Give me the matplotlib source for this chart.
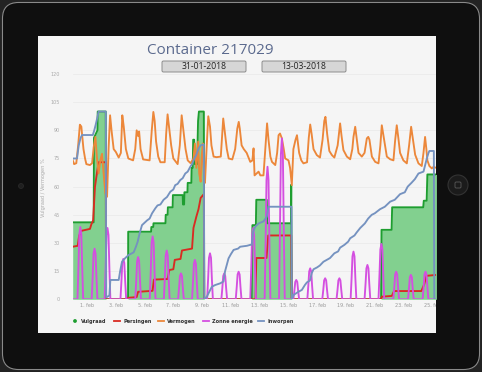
import matplotlib
matplotlib.use("Agg")
import matplotlib.pyplot as plt
from matplotlib.patches import FancyBboxPatch, Circle, Rectangle

# days since 31-01-2018 00:00
VULG_D = [0, 1.46, 1.48, 1.72, 1.74, 2.3, 2.32, 3.85, 3.86, 5.45, 5.47, 5.6, 5.62, 6.45, 6.47, 6.6, 6.62,
          6.95, 6.97, 7.65, 7.67, 7.75, 7.77, 7.98, 8.0, 8.25, 8.27, 8.35, 8.38, 8.45, 8.5, 8.65, 8.72,
          8.78, 9.12, 9.15, 12.45, 12.5, 12.74, 12.77, 13.5, 13.53, 15.18, 15.2, 15.24, 21.45, 21.48,
          22.18, 22.22, 24.38, 24.42, 24.62, 24.67, 25.3]
VULG_V = [41, 41, 86, 90, 100, 100, 0, 0, 36, 36, 38.5, 38.5, 40.5, 40.5, 45, 45, 49,
          49, 55.5, 55.5, 50.5, 50.5, 57, 57, 62, 62, 70, 70, 85, 85, 72, 72, 95,
          100, 100, 0, 0, 39.5, 39.5, 53, 53, 40.5, 40.5, 61, 0, 0, 37,
          37, 49, 49, 52.5, 52.5, 66.5, 66.5]

PERS_D = [0, 0.35, 0.45, 0.62, 1.2, 1.3, 1.42, 1.55, 1.7, 1.8, 2.3, 2.32, 3.85, 3.86, 4.45, 4.55, 5.55,
          5.65, 6.6, 6.72, 7.0, 7.1, 7.5, 7.6, 8.3, 8.4, 8.6, 8.75, 8.9, 9.12, 9.15, 12.72, 12.77,
          13.48, 13.6, 15.2, 15.23, 21.45, 21.5, 22.2, 22.35, 24.25, 24.45, 24.6, 25.3]
PERS_V = [28, 28.5, 34, 36.5, 37.5, 40, 42, 60, 68, 73, 73, 0, 0, 0.8, 1.2, 4, 4.5,
          10.5, 10.8, 15.6, 16, 21, 21.5, 26, 27, 38, 44, 48, 54, 56, 0, 0, 22,
          22, 34, 34, 0, 0, 1.4, 1.8, 4.4, 4.4, 8, 12.5, 13]

VERM_D = [0.0, 0.1, 0.25, 0.38, 0.5, 0.6, 0.75, 0.86, 0.95, 1.2, 1.35, 1.46, 1.58, 1.68, 1.8, 1.92,
          2.04, 2.15, 2.27, 2.39, 2.5, 2.6, 2.7, 2.85, 3.0, 3.2, 3.35, 3.45, 3.55, 3.7, 3.87, 4.2,
          4.35, 4.45, 4.55, 4.62, 4.72, 4.9, 5.35, 5.5, 5.61, 5.7, 5.8, 5.95, 6.1, 6.4, 6.5, 6.6,
          6.7, 6.85, 7.0, 7.3, 7.45, 7.58, 7.7, 7.85, 8.0, 8.2, 8.4, 8.5, 8.6, 8.73, 8.8, 8.9,
          8.97, 9.05, 9.13, 9.2, 9.31, 9.43, 9.55, 9.65, 9.8, 10.0, 10.3, 10.4, 10.47, 10.6, 10.72,
          10.85, 11.1, 11.3, 11.45, 11.55, 11.62, 11.75, 11.9, 12.1, 12.35, 12.5, 12.58, 12.65,
          12.93, 13.05, 13.27, 13.4, 13.52, 13.62, 13.75, 13.86, 14.09, 14.22, 14.32, 14.42,
          14.55, 14.68, 14.78, 15.01, 15.12, 15.24, 15.35, 15.5, 15.6, 15.75, 15.9, 16.05, 16.3,
          16.42, 16.52, 16.62, 16.75, 16.98, 17.2, 17.38, 17.5, 17.58, 17.7, 17.85, 18.03, 18.2,
          18.43, 18.6, 18.7, 18.83, 19.07, 19.3, 19.45, 19.53, 19.65, 19.75, 19.88, 20.11, 20.3,
          20.46, 20.56, 20.64, 20.81, 21.04, 21.27, 21.4, 21.5, 21.6, 21.73, 21.85, 22.08, 22.31,
          22.42, 22.54, 22.65, 22.77, 23.0, 23.24, 23.4, 23.54, 23.65, 23.82, 24.05, 24.28, 24.4,
          24.51, 24.6, 24.67, 24.81, 24.98, 25.09, 25.3]
VERM_V = [74, 72, 72.5, 82, 93, 92, 80, 75, 72, 71.5, 72.5, 81, 86.5, 76, 67, 74,
          77.5, 67, 56.5, 54.6, 81, 98, 90, 80, 78.5, 75.5, 78, 98, 92, 80, 75, 74,
          80, 90, 87, 89.4, 80, 74.5, 74, 90, 99.8, 95, 84, 76, 73, 73, 88, 98.5,
          92, 82, 75, 72, 82, 98, 90, 80, 74, 72.5, 75, 83, 70, 84, 67, 62.6,
          76, 83, 62.6, 62, 80, 97.5, 92, 82, 76, 75.7, 76, 88, 96.3, 88, 80,
          75, 74.5, 80, 91, 94.5, 91, 82, 80, 78, 73.2, 74, 80.4, 66,
          68, 66, 66, 80, 93.7, 85, 76, 73.2, 71.5, 78, 87.4, 88.3,
          85.7, 80, 75, 74, 70, 60.8, 80, 85, 87.4, 78, 74, 72.4, 73,
          86, 93.1, 88, 80, 76.8, 75.5, 85, 95, 97.2, 88, 79, 76.8, 75.5,
          82, 93.7, 87, 79.5, 76, 74.6, 80, 86.5, 91.9, 86, 78, 76, 78,
          85.7, 86.5, 85, 76, 73.2, 72.4, 82, 92.7, 88, 82, 76, 74.6, 74,
          84, 92.7, 86, 78, 74, 72.4, 82, 91.9, 86, 77, 72.4, 71, 78,
          86.5, 80, 74, 71, 69.7, 70.5, 70]

# solar peaks: one per day (centre day, peak value)
ZON_DAY = [0.53, 1.52, 2.42, 3.52, 4.55, 5.56, 6.54, 7.53, 8.5, 9.55, 10.54, 11.54, 12.55,
           13.55, 14.55, 15.55, 16.52, 17.56, 18.55, 19.53, 20.5, 21.47, 22.5, 23.52, 24.54]
ZON_PEAK = [38.5, 27, 38, 21.5, 22.5, 33.5, 26, 13.8, 21, 24.5, 13.8, 14.7, 38,
            70.6, 85.7, 10.3, 16.5, 11.2, 11.2, 25.4, 18.3, 29.5, 14.7, 13, 14.7]

INW_D = [0, 0.3, 0.42, 0.55, 0.65, 1.4, 1.5, 1.6, 1.72, 1.8, 2.3, 2.33, 2.55, 2.62, 3.2, 3.3, 3.43,
         3.66, 3.89, 4.24, 4.4, 4.52, 4.65, 4.82, 5.17, 5.35, 5.52, 5.75, 5.9, 6.1, 6.32, 6.56,
         6.79, 7.0, 7.13, 7.3, 7.48, 7.65, 7.83, 8.0, 8.18, 8.3, 8.41, 8.6, 8.76, 8.9, 9.12, 9.15,
         9.33, 9.5, 9.68, 9.91, 10.26, 10.49, 10.6, 10.84, 11.0, 11.19, 11.5, 11.65, 12.12, 12.35,
         12.45, 12.55, 12.7, 12.93, 13.27, 13.5, 13.62, 15.22, 15.24, 15.36, 15.7, 15.94, 16.15,
         16.29, 16.5, 16.63, 16.75, 17.0, 17.19, 17.44, 17.79, 17.9, 18.2, 18.46, 18.6, 18.9,
         19.16, 19.3, 19.6, 19.74, 20.0, 20.32, 20.55, 20.8, 21.01, 21.38, 21.71, 22.08, 22.4,
         22.77, 23.1, 23.3, 23.56, 23.8, 24.05, 24.4, 24.5, 24.63, 24.75, 24.81, 25.12, 25.15, 25.3]
INW_V = [75, 75, 82, 86, 87.5, 87.5, 90, 93, 97, 100, 100, 1, 2, 10.3, 10.3, 15, 20,
         22, 23.6, 25, 28, 30.7, 35, 39.5, 42, 43, 45.8, 48.5, 50, 50.5, 53, 54.5,
         57.3, 58.5, 60.8, 61.5, 63.5, 64.5, 67, 68, 70.6, 72, 74, 77, 80.4, 82, 82.5, 0,
         1.4, 4, 6.7, 7.6, 8.5, 9.5, 15, 21.8, 24, 26.3, 27, 28, 28.5, 29,
         29, 36, 38.7, 40.4, 41.5, 44, 49.3, 49.3, 0, 2.3, 4, 5, 7.6,
         9, 10, 14, 16, 17, 18, 20, 21.5, 22, 24.5, 25.5, 27.5, 29,
         30.7, 32.5, 34, 35.5, 38, 40.4, 43, 45, 45.8, 48, 49.3, 52, 53,
         56, 57, 60, 62, 64, 67, 68, 71, 75, 78, 79, 79, 0, 0]

X_TICKS = list(range(1, 26, 2))
X_LABELS = [f"{d}. feb" for d in X_TICKS]
Y_TICKS = list(range(0, 121, 15))

GREEN, GREEN_FILL = "#1e9e30", "#82d08f"
RED, ORANGE, MAGENTA, BLUE = "#d92b22", "#ec873a", "#d44fe0", "#7592c0"

W, H = 482, 372
fig = plt.figure(figsize=(W / 100, H / 100), dpi=100, facecolor="#232323")

# device frame + screen, drawn in pixel coords
bg = fig.add_axes([0, 0, 1, 1], zorder=0)
bg.set_xlim(0, W)
bg.set_ylim(H, 0)
bg.axis("off")
bg.add_patch(FancyBboxPatch((2.5, 2.5), W - 5, H - 5, boxstyle="round,pad=0,rounding_size=16",
                            fc="#0c0c0c", ec="#8a8a8a", lw=0.8))
bg.add_patch(FancyBboxPatch((4, 4), W - 8, H - 8, boxstyle="round,pad=0,rounding_size=14",
                            fc="#0f0f0f", ec="none"))
bg.add_patch(Circle((21, 186), 2.5, fc="#1f1f1f", ec="#2c2c2c", lw=0.5))
bg.add_patch(Circle((458, 185), 10, fc="#1b1b1b", ec="#333333", lw=0.8))
bg.add_patch(FancyBboxPatch((455, 182), 6, 6, boxstyle="round,pad=0,rounding_size=1.2",
                            fc="none", ec="#5a5a5a", lw=0.6))
screen = Rectangle((38, 36), 398, 297, fc="#f5f5f5", ec="none")
bg.add_patch(screen)

bg.text(210, 51, "Container 217029", fontsize=11, family="Open Sans", color="#5b6a8e",
        ha="center", va="center")
for x0, label in [(162, "31-01-2018"), (262, "13-03-2018")]:
    bg.add_patch(FancyBboxPatch((x0, 61), 84, 11, boxstyle="round,pad=0,rounding_size=1.5",
                                fc="#d6d6d6", ec="#8c8c8c", lw=0.7))
    bg.text(x0 + 42, 66.8, label, fontsize=6.2, family="Open Sans", color="#222222",
            ha="center", va="center")
bg.text(44, 188, "Vulgraad / Vermogen %", rotation=90, fontsize=3.6, color="#aaaaaa",
        ha="center", va="center")

# legend
bg.add_patch(Circle((75, 321), 1.9, fc=GREEN, ec="none"))
bg.text(80.5, 321, "Vulgraad", fontsize=3.6, weight="bold", color="#333333", va="center")
for x0, col, label in [(114, RED, "Persingen"), (158, ORANGE, "Vermogen"),
                       (203, MAGENTA, "Zonne energie"), (258, BLUE, "Inworpen")]:
    bg.plot([x0, x0 + 6], [321, 321], color=col, lw=1.3)
    bg.text(x0 + 9, 321, label, fontsize=3.6, weight="bold", color="#333333", va="center")

# chart
ax = fig.add_axes([72.7 / W, (H - 299.3) / H, (436 - 72.7) / W, (299.3 - 74) / H], zorder=1)
ax.set_facecolor("none")
for s in ax.spines.values():
    s.set_visible(False)

# rounded hump for each day's solar peak
zx, zy = [0.0], [0.0]
for c, p in zip(ZON_DAY, ZON_PEAK):
    for off, f in [(-0.2, 0), (-0.13, 0.45), (-0.07, 0.9), (0, 1), (0.07, 0.9), (0.13, 0.45), (0.2, 0)]:
        zx.append(c + off)
        zy.append(p * f)
zx.append(25.3)
zy.append(0)

ax.fill_between(VULG_D, VULG_V, 0, color=GREEN_FILL, lw=0, zorder=1)
ax.plot(VULG_D, VULG_V, color=GREEN, lw=1.35, zorder=2)
ax.plot(PERS_D, PERS_V, color=RED, lw=1.35, zorder=3)
ax.plot(VERM_D, VERM_V, color=ORANGE, lw=1.35, zorder=4)
ax.plot(zx, zy, color=MAGENTA, lw=1.35, zorder=5)
ax.plot(INW_D, INW_V, color=BLUE, lw=1.35, zorder=6)

ax.set_xlim(0, 25.27)
ax.set_ylim(0, 120)
ax.set_yticks(Y_TICKS)
ax.set_yticklabels([str(v) for v in Y_TICKS])
ax.set_xticks(X_TICKS)
ax.set_xticklabels(X_LABELS)
ax.tick_params(axis="y", length=0, pad=9, labelsize=3.5, labelcolor="#aaaaaa")
ax.tick_params(axis="x", length=0, pad=3, labelsize=3.5, labelcolor="#999999")
ax.grid(axis="y", color="#e9e9e9", lw=0.5, zorder=0)
ax.set_axisbelow(True)
for lbl in ax.get_xticklabels():
    lbl.set_clip_path(screen)

fig.savefig("out.png", dpi=100, facecolor=fig.get_facecolor())
